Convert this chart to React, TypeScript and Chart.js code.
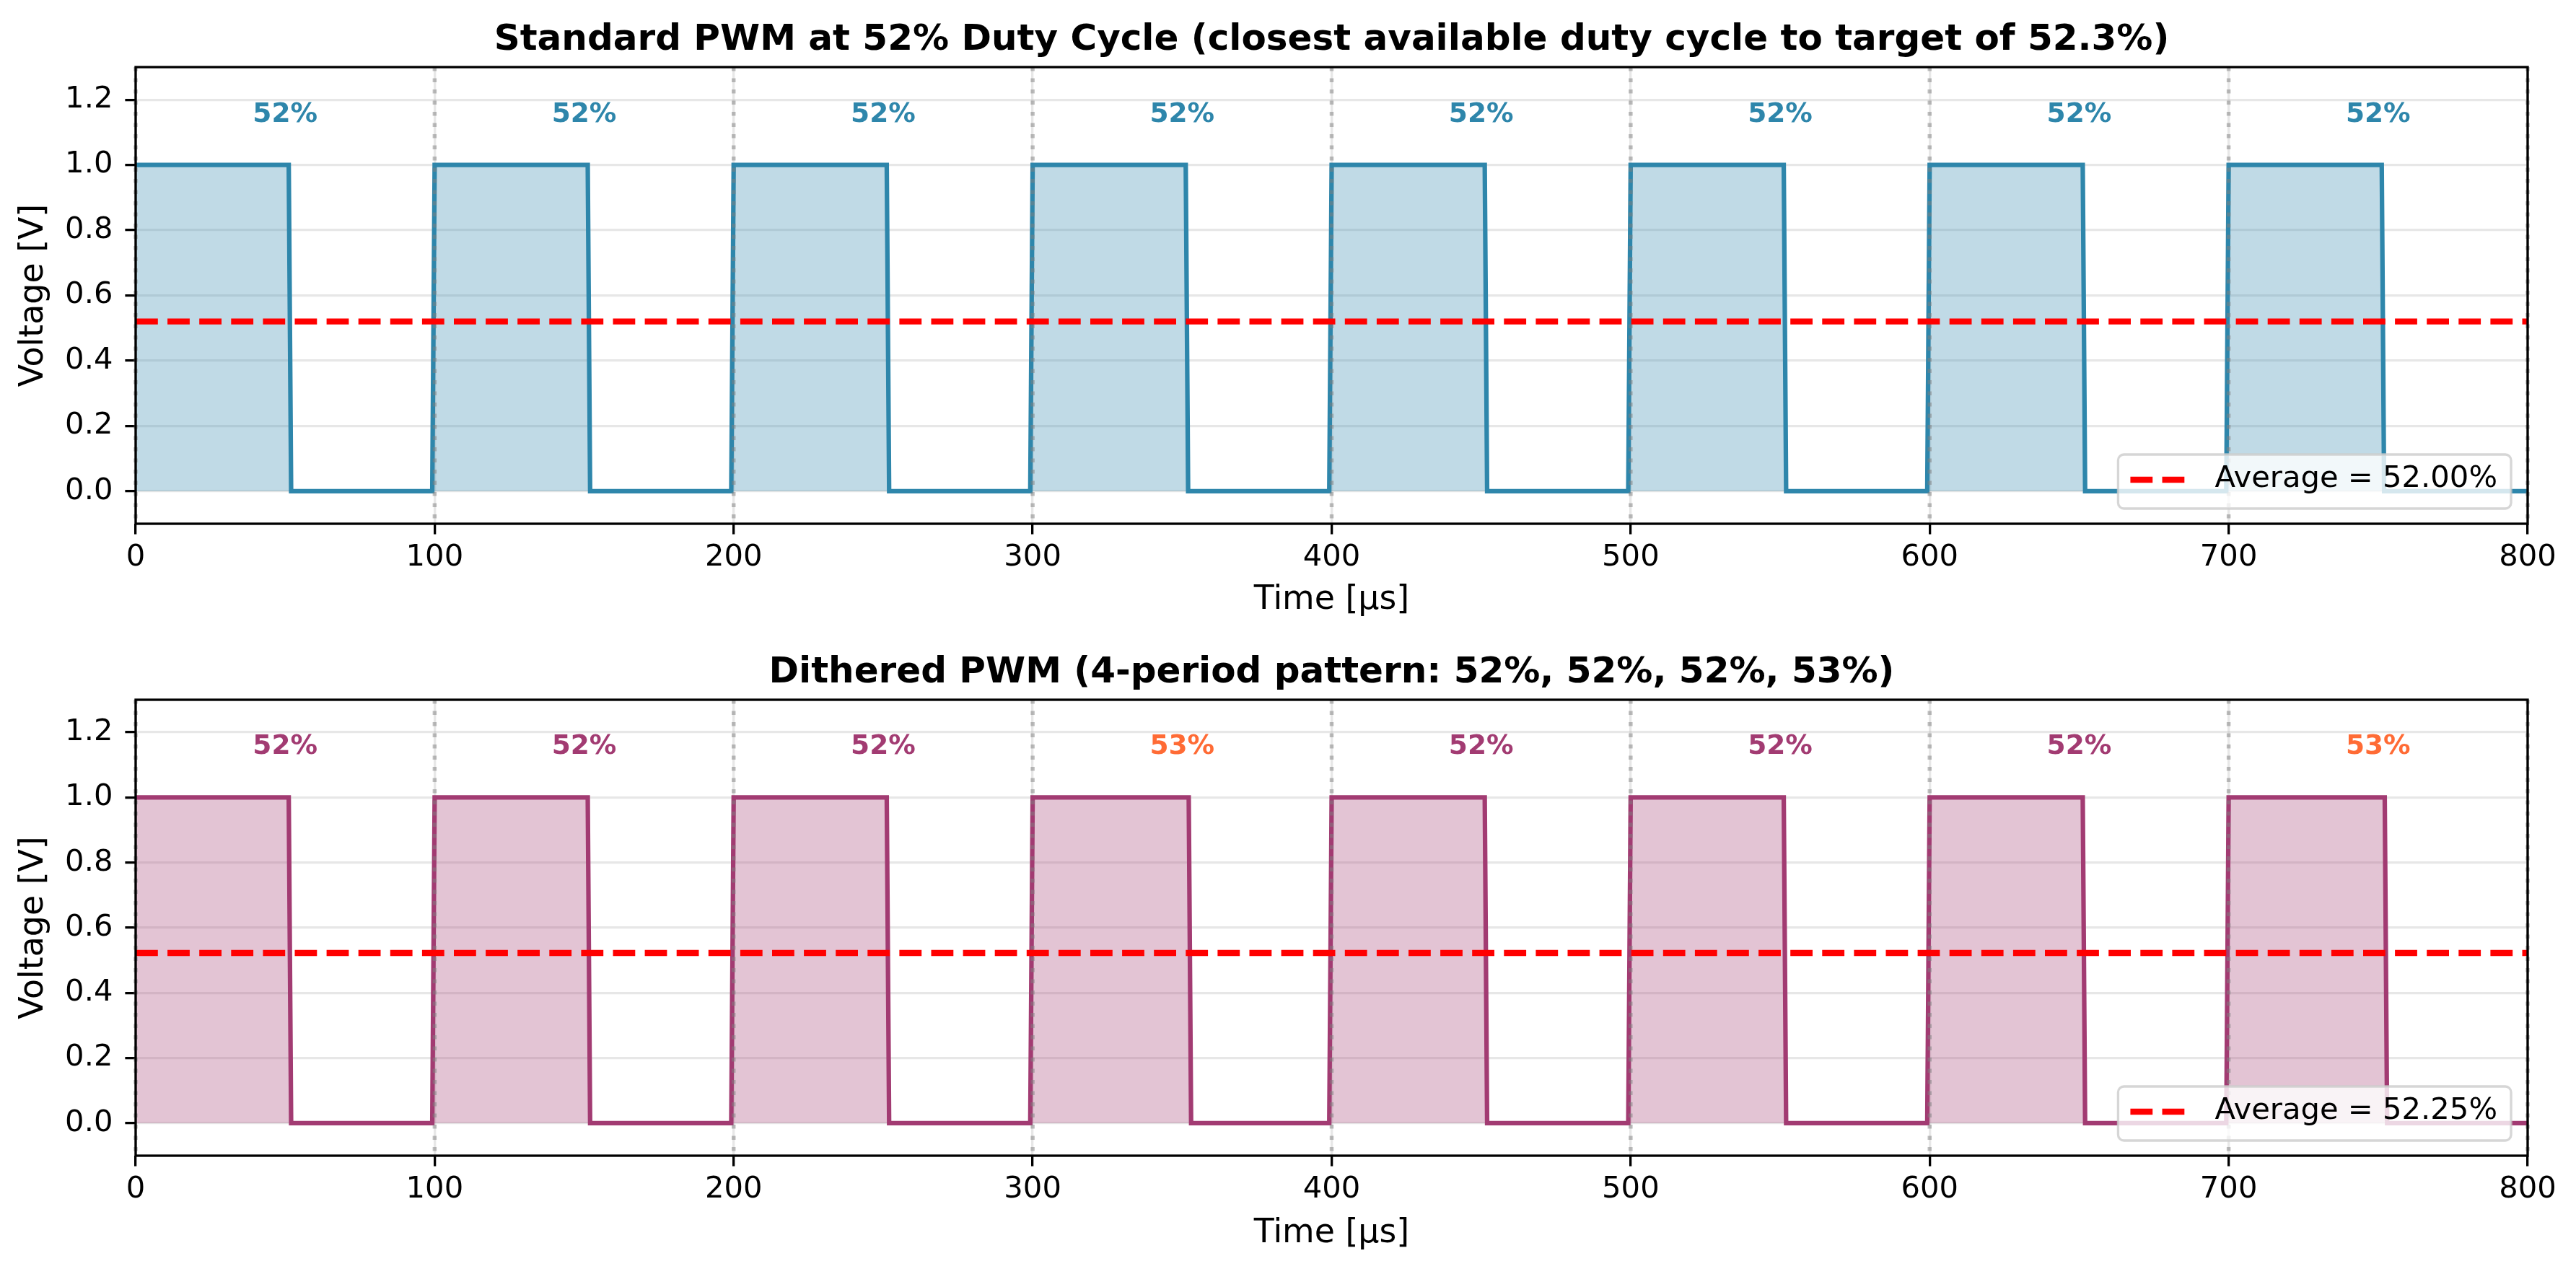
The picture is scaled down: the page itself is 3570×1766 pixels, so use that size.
import React, { useEffect, useRef } from "react";
import { Chart, registerables } from "chart.js";

Chart.register(...registerables);

// ---------------- data ----------------
const periodStarts = [0, 100, 200, 300, 400, 500, 600, 700];
const periodLength = 100;
const standardDuty = [52, 52, 52, 52, 52, 52, 52, 52];
const ditheredDuty = [52, 52, 52, 53, 52, 52, 52, 53];
const standardAverage = 0.52;
const ditheredAverage = 0.5225;
const xTicks = [0, 100, 200, 300, 400, 500, 600, 700, 800];
const yTicks = [0, 0.2, 0.4, 0.6, 0.8, 1.0, 1.2];
const periodBoundaries = [0, 100, 200, 300, 400, 500, 600, 700, 800];
const labelY = 1.15;
const sampleStep = 0.8;
const xMin = 0;
const xMax = 800;
const yMin = -0.1;
const yMax = 1.3;

const standardTitle =
  "Standard PWM at 52% Duty Cycle (closest available duty cycle to target of 52.3%)";
const ditheredTitle = "Dithered PWM (4-period pattern: 52%, 52%, 52%, 53%)";

// ---------------- style ----------------
const FONT = '"DejaVu Sans", "Liberation Sans", sans-serif';
const W = 3570;
const H = 883;

function buildWave(duty: number[]) {
  const pts: { x: number; y: number }[] = [];
  duty.forEach((d, i) => {
    const s = periodStarts[i];
    pts.push({ x: s, y: 1 });
    pts.push({ x: s + d - sampleStep, y: 1 });
    pts.push({ x: s + d, y: 0 });
    pts.push({ x: s + periodLength - sampleStep, y: 0 });
  });
  pts.push({ x: xMax, y: 0 });
  return pts;
}

type Panel = {
  title: string;
  duty: number[];
  avg: number;
  color: string;
  fill: string;
  labelColors: string[];
  legendText: string;
  areaTop: number;
  areaBottom: number;
  xTitlePad: number;
};

function hexToRgba(hex: string, a: number) {
  const n = parseInt(hex.slice(1), 16);
  return `rgba(${(n >> 16) & 255},${(n >> 8) & 255},${n & 255},${a})`;
}

function makeConfig(p: Panel): any {
  const decorations = {
    id: "decorations",
    afterDatasetDraw(chart: any, args: any) {
      if (args.index !== 0) return;
      const { ctx, chartArea } = chart;
      const xs = chart.scales.x;
      ctx.save();
      ctx.strokeStyle = "rgba(128,128,128,0.5)";
      ctx.lineWidth = 5.5;
      ctx.setLineDash([5.5, 10]);
      periodBoundaries.forEach((b) => {
        const px = xs.getPixelForValue(b);
        ctx.beginPath();
        ctx.moveTo(px, chartArea.top);
        ctx.lineTo(px, chartArea.bottom);
        ctx.stroke();
      });
      ctx.restore();
    },
    afterDatasetsDraw(chart: any) {
      const { ctx, chartArea } = chart;
      const xs = chart.scales.x;
      const ys = chart.scales.y;
      const { left, right, top, bottom } = chartArea;
      ctx.save();
      // frame
      ctx.strokeStyle = "#000";
      ctx.lineWidth = 3.3;
      ctx.setLineDash([]);
      ctx.strokeRect(left, top, right - left, bottom - top);
      // title
      ctx.fillStyle = "#000";
      ctx.font = `bold 50px ${FONT}`;
      ctx.textAlign = "center";
      ctx.textBaseline = "alphabetic";
      ctx.fillText(p.title, (left + right) / 2, top - 24);
      // period labels
      ctx.font = `bold 37.5px ${FONT}`;
      ctx.textBaseline = "middle";
      p.duty.forEach((d, i) => {
        ctx.fillStyle = p.labelColors[i];
        ctx.fillText(
          `${d}%`,
          xs.getPixelForValue(periodStarts[i] + periodLength / 2),
          ys.getPixelForValue(labelY) - 2
        );
      });
      // legend
      ctx.font = `41.7px ${FONT}`;
      const tw = ctx.measureText(p.legendText).width;
      const boxW = 134 + tw + 19;
      const boxH = 75;
      const bx = right - 23 - boxW;
      const by = bottom - 21 - boxH;
      ctx.beginPath();
      (ctx as any).roundRect(bx, by, boxW, boxH, 8);
      ctx.fillStyle = "rgba(255,255,255,0.8)";
      ctx.fill();
      ctx.strokeStyle = "rgba(204,204,204,0.8)";
      ctx.lineWidth = 3.3;
      ctx.stroke();
      ctx.strokeStyle = "#ff0000";
      ctx.lineWidth = 8.33;
      ctx.setLineDash([30.8, 13.3]);
      ctx.beginPath();
      ctx.moveTo(bx + 17, by + 35);
      ctx.lineTo(bx + 92, by + 35);
      ctx.stroke();
      ctx.setLineDash([]);
      ctx.fillStyle = "#000";
      ctx.textAlign = "left";
      ctx.textBaseline = "middle";
      ctx.fillText(p.legendText, bx + 134, by + 34);
      ctx.restore();
    },
  };

  const gridCommon = {
    color: "rgba(176,176,176,0.3)",
    lineWidth: 3.3,
    drawTicks: true,
    tickColor: "#000",
    tickLength: 14.6,
    tickWidth: 3.3,
  };

  return {
    type: "line",
    data: {
      datasets: [
        {
          label: "signal",
          data: buildWave(p.duty),
          borderColor: p.color,
          backgroundColor: p.fill,
          borderWidth: 6.25,
          pointRadius: 0,
          tension: 0,
          fill: "origin",
          order: 2,
          borderJoinStyle: "miter",
        },
        {
          label: p.legendText,
          data: [
            { x: xMin, y: p.avg },
            { x: xMax, y: p.avg },
          ],
          borderColor: "#ff0000",
          borderWidth: 8.33,
          borderDash: [30.8, 13.3],
          pointRadius: 0,
          fill: false,
          order: 1,
        },
      ],
    },
    options: {
      animation: false,
      responsive: false,
      maintainAspectRatio: false,
      devicePixelRatio: 1,
      events: [],
      layout: { padding: { left: 0, right: W - 3503, top: p.areaTop, bottom: 0 } },
      plugins: {
        legend: { display: false },
        title: { display: false },
        tooltip: { enabled: false },
      },
      scales: {
        x: {
          type: "linear",
          min: xMin,
          max: xMax,
          afterBuildTicks: (s: any) => {
            s.ticks = xTicks.map((v) => ({ value: v }));
          },
          afterFit: (s: any) => {
            s.height = H - p.areaBottom;
          },
          ticks: {
            autoSkip: false,
            maxRotation: 0,
            minRotation: 0,
            padding: 8,
            color: "#000",
            font: { family: FONT, size: 41.7 },
            callback: (v: any) => String(v),
          },
          grid: gridCommon,
          border: { display: false },
          title: {
            display: true,
            text: "Time [μs]",
            color: "#000",
            font: { family: FONT, size: 45.8 },
            padding: { top: 0, bottom: p.xTitlePad },
          },
        },
        y: {
          type: "linear",
          min: yMin,
          max: yMax,
          afterBuildTicks: (s: any) => {
            s.ticks = yTicks.map((v) => ({ value: v }));
          },
          afterFit: (s: any) => {
            s.width = 188;
          },
          ticks: {
            autoSkip: false,
            padding: 17,
            color: "#000",
            font: { family: FONT, size: 41.7 },
            callback: (v: any) => Number(v).toFixed(1),
          },
          grid: gridCommon,
          border: { display: false },
          title: {
            display: true,
            text: "Voltage [V]",
            color: "#000",
            font: { family: FONT, size: 45.8 },
            padding: { top: 19.5, bottom: 0 },
          },
        },
      },
    },
    plugins: [decorations],
  };
}

const standardPanel: Panel = {
  title: standardTitle,
  duty: standardDuty,
  avg: standardAverage,
  color: "#2E86AB",
  fill: hexToRgba("#2E86AB", 0.3),
  labelColors: standardDuty.map(() => "#2E86AB"),
  legendText: `Average = ${(standardAverage * 100).toFixed(2)}%`,
  areaTop: 93,
  areaBottom: 726,
  xTitlePad: 23.5,
};

const ditheredPanel: Panel = {
  title: ditheredTitle,
  duty: ditheredDuty,
  avg: ditheredAverage,
  color: "#A23B72",
  fill: hexToRgba("#A23B72", 0.3),
  labelColors: ditheredDuty.map((d) => (d > Math.min(...ditheredDuty) ? "#FF6B35" : "#A23B72")),
  legendText: `Average = ${(ditheredAverage * 100).toFixed(2)}%`,
  areaTop: 87,
  areaBottom: 719,
  xTitlePad: 28.5,
};

function PanelChart({ panel, top }: { panel: Panel; top: number }) {
  const ref = useRef<HTMLCanvasElement | null>(null);
  useEffect(() => {
    if (!ref.current) return;
    const chart = new Chart(ref.current, makeConfig(panel));
    return () => chart.destroy();
  }, [panel]);
  return (
    <canvas
      ref={ref}
      width={W}
      height={H}
      style={{ position: "absolute", left: 0, top, width: W, height: H, display: "block" }}
    />
  );
}

export default function App() {
  return (
    <div
      style={{
        position: "absolute",
        left: 0,
        top: 0,
        width: W,
        height: 2 * H,
        background: "#fff",
        overflow: "hidden",
      }}
    >
      <PanelChart panel={standardPanel} top={0} />
      <PanelChart panel={ditheredPanel} top={H} />
    </div>
  );
}
